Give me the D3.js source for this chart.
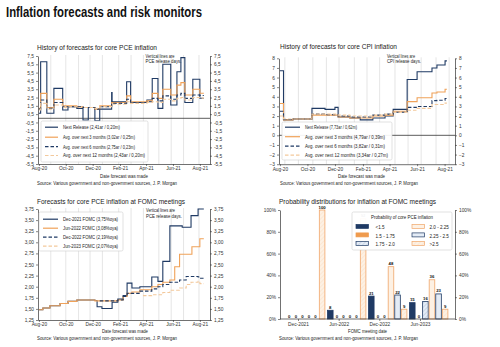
<!DOCTYPE html>
<html><head><meta charset="utf-8">
<script src="https://cdn.jsdelivr.net/npm/d3@7"></script>
<style>
body{margin:0;background:#fff;}
svg text{font-family:"Liberation Sans Narrow","Arial Narrow","Liberation Sans",Arial,sans-serif;fill:#222;}
</style></head><body><svg id="c" width="500" height="347"></svg>
<script>
// ---------------- DATA ----------------
const xTickDates = ["2020-08-01","2020-10-01","2020-12-01","2021-02-01","2021-04-01","2021-06-01","2021-08-01"];
const pceReleaseDays = ["2020-08-28","2020-10-01","2020-10-30","2020-11-25","2020-12-23","2021-01-29","2021-02-26","2021-03-26","2021-04-30","2021-05-28","2021-06-25","2021-07-30"];
const cpiReleaseDays = ["2020-08-12","2020-09-11","2020-10-13","2020-11-12","2020-12-10","2021-01-13","2021-02-10","2021-03-10","2021-04-13","2021-05-12","2021-06-10","2021-07-13","2021-08-11"];

// Panel 1: core PCE forecast history
const pceDates = ["2020-08-01","2020-08-05","2020-08-19","2020-09-04","2020-09-24","2020-10-06","2020-10-26","2020-11-09","2020-11-21","2020-12-06","2020-12-17","2021-01-13","2021-01-14","2021-02-16","2021-02-25","2021-04-03","2021-04-15","2021-04-28","2021-05-09","2021-05-27","2021-06-10","2021-06-19","2021-06-28","2021-07-16","2021-08-01","2021-08-10"];
const pceNext = [0.6,6.8,0.6,3.6,1.0,1.4,1.2,-0.2,1.3,-0.3,1.1,3.1,2.0,4.4,1.9,2.2,4.8,1.2,6.5,1.6,5.6,7.3,1.9,4.7,2.41,2.41];
const pce3m   = [1.2,3.0,1.3,2.3,1.5,1.5,1.4,1.3,1.3,1.1,1.5,1.9,1.9,2.7,2.0,2.1,3.0,2.4,3.5,2.8,4.0,4.3,2.8,3.5,3.02,3.02];
const pce6m   = [1.1,2.2,1.2,1.9,1.4,1.4,1.4,1.3,1.3,1.1,1.4,1.8,1.8,2.3,1.9,2.0,2.4,2.1,2.7,2.3,2.8,3.0,2.4,2.8,2.75,2.75];
const pce12m  = [1.0,1.8,1.1,1.6,1.3,1.4,1.3,1.3,1.3,1.2,1.4,1.7,1.7,2.0,1.8,1.9,2.0,1.9,2.3,2.1,2.4,2.5,2.2,2.5,2.43,2.43];
const pceLegend = ["Next Release (2,41ar / 0,20m)","Avg. over next 3 months (3,02ar / 0,25m)","Avg. over next 6 months (2,75ar / 0,23m)","Avg. over next 12 months (2,43ar / 0,20m)"];
const pceTicks = [7.5,6.5,5.5,4.5,3.5,2.5,1.5,0.5,-0.5,-1.5,-2.5,-3.5,-4.5,-5.5];

// Panel 2: core CPI forecast history
const cpiDates = ["2020-08-01","2020-08-09","2020-08-30","2020-10-11","2020-11-09","2020-12-01","2020-12-08","2021-01-03","2021-01-26","2021-02-23","2021-03-22","2021-04-09","2021-05-10","2021-06-01","2021-07-04","2021-07-15","2021-08-02","2021-08-06"];
const cpiNext = [6.7,1.6,1.7,2.8,2.7,2.9,1.9,1.8,1.6,1.8,2.0,2.7,5.8,6.6,7.0,7.3,7.73,7.73];
const cpi3m   = [3.3,1.6,1.7,2.1,2.1,2.1,1.9,1.8,1.8,2.0,2.1,2.5,3.5,3.9,4.4,4.5,4.79,4.79];
const cpi6m   = [2.5,1.65,1.7,2.2,2.15,2.15,2.0,1.9,1.9,2.1,2.2,2.4,2.9,3.0,3.6,3.65,3.82,3.82];
const cpi12m  = [2.0,1.7,1.7,2.2,2.2,2.2,2.1,2.0,2.0,2.1,2.2,2.4,2.6,2.8,3.2,3.2,3.34,3.34];
const cpiLegend = ["Next Release (7,73ar / 0,62m)","Avg. over next 3 months (4,79ar / 0,39m)","Avg. over next 6 months (3,82ar / 0,31m)","Avg. over next 12 months (3,34ar / 0,27m)"];
const cpiTicks = [8,7,6,5,4,3,2,1,0,-1,-2,-3];

// Panel 3: core PCE forecasts at FOMC meetings
const dec21Dates = ["2020-08-01","2020-08-10","2020-08-26","2020-09-18","2020-10-06","2020-10-26","2020-12-06","2020-12-11","2020-12-22","2021-01-14","2021-01-27","2021-02-08","2021-02-17","2021-02-28","2021-03-18","2021-04-14","2021-04-28","2021-05-09","2021-05-25","2021-06-22","2021-07-12","2021-07-28","2021-08-10"];
const dec21Vals  = [1.48,1.52,1.57,1.62,1.67,1.70,1.69,1.55,1.51,1.65,1.72,1.80,2.08,1.97,2.00,2.22,2.12,2.57,3.37,3.34,3.60,3.75,3.75];
const jun22Dates = ["2020-08-01","2020-08-10","2020-08-26","2020-09-18","2020-10-06","2020-10-26","2020-12-06","2021-01-27","2021-02-08","2021-02-17","2021-02-28","2021-03-18","2021-04-14","2021-04-28","2021-05-09","2021-05-25","2021-06-05","2021-06-16","2021-07-14","2021-08-01","2021-08-10"];
const jun22Vals  = [1.48,1.52,1.57,1.62,1.67,1.70,1.68,1.70,1.78,1.85,1.88,1.93,2.00,2.05,2.10,2.15,2.45,2.73,2.90,3.08,3.08];
const dec22Dates = ["2020-12-17","2021-01-27","2021-02-08","2021-02-17","2021-03-18","2021-04-14","2021-04-28","2021-05-09","2021-05-25","2021-06-16","2021-07-01","2021-07-28","2021-08-01","2021-08-10"];
const dec22Vals  = [1.68,1.70,1.78,1.85,1.90,1.95,2.00,2.05,2.10,2.15,2.23,2.22,2.19,2.19];
const jun23Dates = ["2021-03-25","2021-04-14","2021-05-09","2021-05-25","2021-06-16","2021-07-01","2021-07-12","2021-07-28","2021-08-01","2021-08-10"];
const jun23Vals  = [1.80,1.82,1.87,1.92,1.97,2.05,2.10,2.12,2.07,2.07];
const fomcLegend = ["Dec-2021 FOMC (3,75%oya)","Jun-2022 FOMC (3,08%oya)","Dec-2022 FOMC (2,19%oya)","Jun-2023 FOMC (2,07%oya)"];
const fomcTicks = [3.75,3.5,3.25,3.0,2.75,2.5,2.25,2.0,1.75,1.5,1.25];

// Panel 4: probability distributions
const probGroups = ["Dec-2021","Jun-2022","Dec-2022","Jun-2023"];
const probBins = ["<1.5","1.5 - 1.75","1.75 - 2.0","2.0 - 2.25","2.25 - 2.5",">2.5"];
const probValues = [[0,0,0,0,0,100],[8,0,0,0,0,92],[21,0,0,48,22,9],[15,0,16,36,23,9]];
const probTicks = [0,20,40,60,80,100];

// ---------------- DRAW ----------------
const svg = d3.select("#c");
const parse = d3.timeParse("%Y-%m-%d");
const NAVY="#1f3a64", ORANGE="#f0a259", TAN="#f3c99c";
const dateDomain=[new Date(2020,6,30), new Date(2021,7,24)];
const comma = f => v => d3.format(f)(v).replace(".",",").replace("−","-");

function T(g,x,y,s,o={}){
  const t=g.append("text").attr("x",x).attr("y",y).text(s).style("font-size",(o.size||5)+"px");
  if(o.anchor) t.attr("text-anchor",o.anchor);
  if(o.len) t.attr("textLength",o.len).attr("lengthAdjust","spacingAndGlyphs");
  if(o.weight) t.style("font-weight",o.weight);
  if(o.fill) t.style("fill",o.fill);
  return t;
}
function styleAxis(a){
  a.select(".domain").attr("stroke","#333").attr("stroke-width",0.7);
  a.selectAll(".tick line").attr("stroke","#333").attr("stroke-width",0.6);
  a.selectAll("text").style("font-size","4.8px").style("fill","#333");
}

// main title
T(svg,6,17,"Inflation forecasts and risk monitors",{size:15,weight:"bold",len:196,fill:"#111"});

function lineChart(c){
  const g=svg.append("g");
  const x=d3.scaleTime().domain(dateDomain).range([c.left,c.right]);
  const y=d3.scaleLinear().domain(c.yDomain).range([c.bottom,c.top]);
  g.selectAll(".vl").data(c.vlines.map(parse)).join("line")
    .attr("x1",d=>x(d)).attr("x2",d=>x(d)).attr("y1",c.top-1).attr("y2",c.bottom)
    .attr("stroke","#dadada").attr("stroke-width",0.7);
  if(c.zero) g.append("line").attr("x1",c.left).attr("x2",c.right).attr("y1",y(0)).attr("y2",y(0)).attr("stroke","#333").attr("stroke-width",0.8);
  c.series.forEach(s=>{
    const pts=s.dates.map((d,i)=>({d:parse(d),v:s.values[i]}));
    g.append("path").datum(pts)
      .attr("d",d3.line().x(p=>x(p.d)).y(p=>y(p.v)).curve(d3.curveStepAfter))
      .attr("fill","none").attr("stroke",s.color).attr("stroke-width",s.w||1.1)
      .attr("stroke-dasharray",s.dash||null);
  });
  const ax1=g.append("g").attr("transform",`translate(${c.left},0)`)
    .call(d3.axisLeft(y).tickValues(c.yTicks).tickFormat(c.yFmt).tickSize(2).tickSizeOuter(0).tickPadding(2));
  const ax2=g.append("g").attr("transform",`translate(${c.right},0)`)
    .call(d3.axisRight(y).tickValues(c.yTicks).tickFormat(c.yFmt).tickSize(2).tickSizeOuter(0).tickPadding(2));
  const ax3=g.append("g").attr("transform",`translate(0,${c.bottom})`)
    .call(d3.axisBottom(x).tickValues(xTickDates.map(parse)).tickFormat(d3.timeFormat("%b-%y")).tickSize(2).tickSizeOuter(0).tickPadding(1));
  [ax1,ax2,ax3].forEach(styleAxis);
  // title
  T(g,c.titleX,c.titleY,c.title,{size:8,len:c.titleLen});
  // note
  T(g,c.noteX,c.noteY,"Vertical lines are",{size:5,len:c.noteLen[0]});
  T(g,c.noteX,c.noteY+5.5,c.note2,{size:5,len:c.noteLen[1]});
  // legend
  const L=c.legend;
  g.append("rect").attr("x",L.x).attr("y",L.y).attr("width",L.w).attr("height",L.h).attr("rx",1.5)
    .attr("fill","#fff").attr("fill-opacity",0.92).attr("stroke","#cfcfcf").attr("stroke-width",0.6);
  c.series.forEach((s,i)=>{
    const yy=L.rows[i];
    g.append("line").attr("x1",L.sx0).attr("x2",L.sx1).attr("y1",yy-1.8).attr("y2",yy-1.8)
      .attr("stroke",s.color).attr("stroke-width",1.2).attr("stroke-dasharray",s.dash||null);
    T(g,L.tx,yy,L.labels[i],{size:5,len:L.lens[i]});
  });
  // x label & source
  T(g,c.xlabX,c.xlabY,"Date forecast was made",{size:5,len:c.xlabLen});
  T(g,c.srcX,c.xlabY+6.5,"Source: Various government and non-government sources, J. P. Morgan",{size:5,len:c.srcLen});
}

lineChart({
  left:38,right:210,top:56,bottom:164,yDomain:[-5.5,7.5],yTicks:pceTicks,yFmt:comma(".1f"),zero:true,
  vlines:pceReleaseDays,
  series:[
    {dates:pceDates,values:pceNext,color:NAVY},
    {dates:pceDates,values:pce3m,color:ORANGE},
    {dates:pceDates,values:pce6m,color:NAVY,dash:"3.5,2"},
    {dates:pceDates,values:pce12m,color:TAN,dash:"3.5,2"}],
  title:"History of forecasts for core PCE inflation",titleX:37,titleY:49.5,titleLen:120,
  noteX:145.5,noteY:57.5,note2:"PCE release days.",noteLen:[29,36],
  legend:{x:41,y:121,w:107,h:41,rows:[129,139,148.5,157.3],sx0:45,sx1:58,tx:63,labels:pceLegend,lens:[57,72,72,82]},
  xlabX:100,xlabY:178,xlabLen:48,srcX:37,srcLen:140
});
lineChart({
  left:279,right:455,top:58.3,bottom:164.2,yDomain:[-3,8],yTicks:cpiTicks,yFmt:d3.format("d"),zero:true,
  vlines:cpiReleaseDays,
  series:[
    {dates:cpiDates,values:cpiNext,color:NAVY},
    {dates:cpiDates,values:cpi3m,color:ORANGE},
    {dates:cpiDates,values:cpi6m,color:NAVY,dash:"3.5,2"},
    {dates:cpiDates,values:cpi12m,color:TAN,dash:"3.5,2"}],
  title:"History of forecasts for core CPI inflation",titleX:280,titleY:49,titleLen:117,
  noteX:387,noteY:57.5,note2:"CPI release days.",noteLen:[28,34],
  legend:{x:282,y:122,w:110,h:38,rows:[129,138.5,148,157],sx0:285,sx1:300,tx:305,labels:cpiLegend,lens:[52,80,80,83]},
  xlabX:338,xlabY:178,xlabLen:47,srcX:280,srcLen:138
});
lineChart({
  left:38,right:210,top:209,bottom:320,yDomain:[1.25,3.75],yTicks:fomcTicks,yFmt:comma(".2f"),zero:false,
  vlines:pceReleaseDays,
  series:[
    {dates:dec21Dates,values:dec21Vals,color:NAVY},
    {dates:jun22Dates,values:jun22Vals,color:ORANGE},
    {dates:dec22Dates,values:dec22Vals,color:NAVY,dash:"3.5,2"},
    {dates:jun23Dates,values:jun23Vals,color:TAN,dash:"3.5,2"}],
  title:"Forecasts for core PCE inflation at FOMC meetings",titleX:37,titleY:204,titleLen:148,
  noteX:146,noteY:212.3,note2:"PCE release days.",noteLen:[29,36],
  legend:{x:39,y:212,w:84,h:39,rows:[221,230,239,248],sx0:43,sx1:58,tx:63,labels:fomcLegend,lens:[55,55,55,55]},
  xlabX:102,xlabY:333,xlabLen:46,srcX:37,srcLen:140
});

// Panel 4: bars
(function(){
  const g=svg.append("g");
  const left=280,right=455,top=210,bottom=319;
  const y=d3.scaleLinear().domain([0,100]).range([bottom,top]);
  const gx=d3.scaleBand().domain(probGroups).range([284,448]);
  const bx=d3.scaleBand().domain(probBins).range([2.5,2.5+6*6.4]).paddingInner(0.15);
  const defs=svg.append("defs");
  function hatch(id,bg,fg){
    const p=defs.append("pattern").attr("id",id).attr("patternUnits","userSpaceOnUse").attr("width",3).attr("height",3).attr("patternTransform","rotate(45)");
    p.append("rect").attr("width",3).attr("height",3).attr("fill",bg);
    p.append("line").attr("x1",0).attr("y1",0).attr("x2",0).attr("y2",3).attr("stroke",fg).attr("stroke-width",0.6);
  }
  hatch("hb","#e4ecf6","#8ea3c2");
  hatch("hc","#fdf1e4","#f6d3ae");
  const sty={
    "<1.5":{fill:NAVY,stroke:NAVY},
    "1.5 - 1.75":{fill:"#ef9a4c",stroke:"#ef9a4c"},
    "1.75 - 2.0":{fill:"url(#hb)",stroke:NAVY},
    "2.0 - 2.25":{fill:"#fdf1e4",stroke:"#f0a66a"},
    "2.25 - 2.5":{fill:"#e4ecf6",stroke:NAVY},
    ">2.5":{fill:"url(#hc)",stroke:"#f0a66a"}};
  probGroups.forEach((gr,gi)=>{
    probBins.forEach((b,bi)=>{
      const v=probValues[gi][bi];
      const x0=gx(gr)+bx(b), w=bx.bandwidth();
      if(v>0){
        g.append("rect").attr("x",x0).attr("y",y(v)).attr("width",w).attr("height",y(0)-y(v))
          .attr("fill",sty[b].fill).attr("stroke",sty[b].stroke).attr("stroke-width",0.8);
      }
      T(g,x0+w/2,y(v)-1.5,String(v),{size:4.3,anchor:"middle",weight:"bold",fill:"#111"});
    });
  });
  const ax1=g.append("g").attr("transform",`translate(${left},0)`)
    .call(d3.axisLeft(y).tickValues(probTicks).tickFormat(d=>d+"%").tickSize(2).tickSizeOuter(0).tickPadding(2));
  const ax2=g.append("g").attr("transform",`translate(${right},0)`)
    .call(d3.axisRight(y).tickValues(probTicks).tickFormat(d=>d+"%").tickSize(2).tickSizeOuter(0).tickPadding(2));
  const tx=d3.scalePoint().domain(probGroups).range([298,420]);
  g.append("line").attr("x1",left).attr("x2",right).attr("y1",bottom).attr("y2",bottom).attr("stroke","#333").attr("stroke-width",0.7);
  const ax3=g.append("g").attr("transform",`translate(0,${bottom})`)
    .call(d3.axisBottom(tx).tickSize(2).tickSizeOuter(0).tickPadding(1.5));
  ax3.select(".domain").remove();
  [ax1,ax2,ax3].forEach(styleAxis);
  T(g,279,204,"Probability distributions for inflation at FOMC meetings",{size:8,len:157});
  // legend
  g.append("rect").attr("x",352).attr("y",212).attr("width",100).attr("height",38).attr("rx",1.5)
    .attr("fill","#fff").attr("fill-opacity",0.95).attr("stroke","#cfcfcf").attr("stroke-width",0.6);
  T(g,402,219,"Probability of core PCE inflation",{size:4.6,anchor:"middle",len:62});
  const rows=[229,237.5,246];
  probBins.forEach((b,i)=>{
    const col=Math.floor(i/3), r=i%3;
    const sx=col?412:356, tx2=col?429.5:375.5;
    g.append("rect").attr("x",sx).attr("y",rows[r]-4.6).attr("width",12.5).attr("height",4)
      .attr("fill",sty[b].fill).attr("stroke",sty[b].stroke).attr("stroke-width",0.7);
    T(g,tx2,rows[r],b,{size:4.6});
  });
  T(g,348,333,"FOMC meeting date",{size:5,len:39});
  T(g,279,339.5,"Source: Various government and non-government sources, J. P. Morgan",{size:5,len:139});
})();
</script></body></html>
